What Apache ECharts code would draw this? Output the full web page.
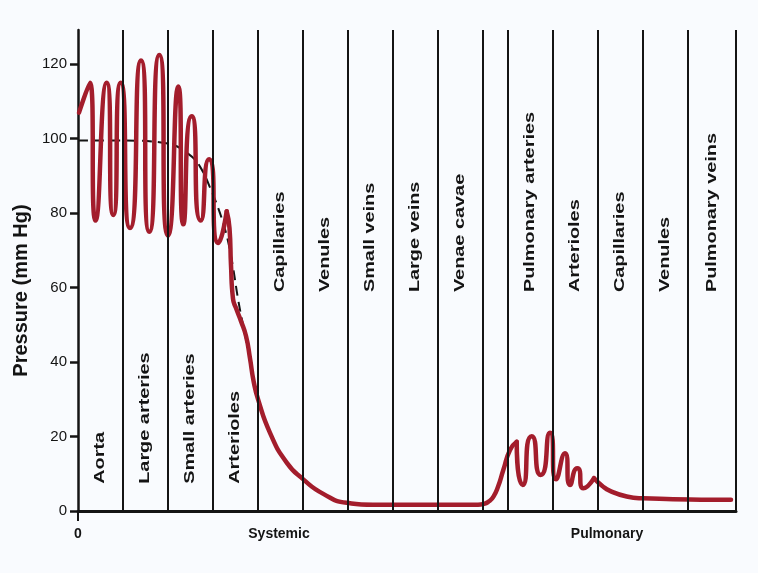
<!DOCTYPE html>
<html>
<head>
<meta charset="utf-8">
<script src="https://cdn.jsdelivr.net/npm/echarts@6/dist/echarts.min.js"></script>
<style>
  html, body { margin: 0; padding: 0; background: #f9fbfe; }
  #chart { width: 758px; height: 573px; }
</style>
</head>
<body>
<div id="chart"></div>
<script>
// ---- data ----
const yTicks = [0, 20, 40, 60, 80, 100, 120];
const dividerX = [45, 90, 135, 180, 225, 270, 315, 360, 405, 430, 475, 520, 565, 610, 658];

const vesselNames = ['Aorta', 'Large arteries', 'Small arteries', 'Arterioles', 'Capillaries', 'Venules',
  'Small veins', 'Large veins', 'Venae cavae', 'Pulmonary arteries', 'Arterioles', 'Capillaries',
  'Venules', 'Pulmonary veins'];
const vesselLabelX = [22.5, 67.5, 112.5, 157.5, 202.5, 247.5, 292.5, 337.5, 382.5, 452.5, 497.5, 542.5, 587.5, 634];
const vesselLabelBaseY = [7.3, 7.3, 7.3, 7.3, 58.8, 58.8, 58.8, 58.8, 58.8, 58.8, 58.8, 58.8, 58.8, 58.8];

const circuitNames = ['Systemic', 'Pulmonary'];
const circuitX = [201, 529];

// pressure trace (red): peaks and troughs, then the decay
const pressureX = [1, 12, 17.5, 28.7, 35.3, 42.7, 52, 63, 71.3, 81.3, 90, 100.3, 105.3, 113.7, 122.7, 131, 140.3, 148.7,
  151.5, 153, 155, 158, 163, 168, 172, 175.5, 180.3, 192, 208.7, 225.3, 245.3, 268.7, 295, 380, 400,
  406, 411, 415.3, 420, 425.3, 432, 438.7, 444.7, 453.7, 462.7, 472, 478, 487, 492, 499.3, 505.3, 516,
  524, 532, 548.7, 565, 612, 653];
const pressureY = [107, 115, 78, 115, 79.5, 115, 76, 121, 75, 122.5, 74, 114, 77, 106, 78, 94.5, 72, 80.5,
  76, 66, 57, 54.5, 51, 47, 41, 35, 29.8, 21, 13, 8.5, 4.6, 2.2, 1.7, 1.7, 1.7,
  1.9, 2.6, 3.8, 6.5, 11, 16.4, 18.6, 7, 20.1, 9.7, 21, 8.5, 15.5, 7, 11.5, 6.1, 8.8,
  6.8, 5.4, 3.9, 3.4, 3.1, 3.0];

// mean pressure (dashed)
const meanX = [0, 45, 90, 110, 122, 135, 140, 145, 150, 155, 160, 165, 170, 175, 178];
const meanY = [99.5, 99.5, 98.7, 96, 92.5, 85, 81.5, 77.5, 72.5, 65.5, 57, 50, 43.5, 36, 32];

// ---- chart ----
const chart = echarts.init(document.getElementById('chart'), null, { renderer: 'canvas' });
const ink = '#141414';
const red = '#a31d2c';
const sans = "'Liberation Sans', Arial, Helvetica, sans-serif";

// the trace is drawn in pieces: pulsatile parts are smoothed more than the decays
const pieces = [
  { from: 0, to: 148.7, smooth: 0.9 },
  { from: 148.7, to: 438.7, smooth: 0.55 },
  { from: 438.7, to: 516, smooth: 0.9 },
  { from: 516, to: 1000, smooth: 0.55 }
];
const traceSeries = pieces.map(function (pc) {
  const pts = [];
  pressureX.forEach(function (x, i) {
    if (x >= pc.from && x <= pc.to) pts.push([x, pressureY[i]]);
  });
  return {
    type: 'line', name: 'Pressure', showSymbol: false, smooth: pc.smooth,
    data: pts, lineStyle: { color: red, width: 4.5, cap: 'round', join: 'round' }, z: 4
  };
});

const option = {
  backgroundColor: '#f9fbfe',
  animation: false,
  grid: { left: 78, right: 22, top: 30, bottom: 62, containLabel: false },
  xAxis: {
    type: 'value', min: 0, max: 658,
    axisLine: { show: true, onZero: false, lineStyle: { color: ink, width: 3 } },
    axisTick: { show: true, customValues: [0], length: 10, lineStyle: { color: ink, width: 2 } },
    axisLabel: {
      show: true, customValues: [0].concat(circuitX), margin: 16,
      color: ink, fontFamily: sans, fontSize: 14, fontWeight: 'bold',
      formatter: function (v) {
        const i = circuitX.indexOf(v);
        return i >= 0 ? circuitNames[i] : String(v);
      }
    },
    splitLine: { show: false }
  },
  yAxis: {
    type: 'value', min: 0, max: 129.2,
    name: 'Pressure (mm Hg)', nameLocation: 'middle', nameGap: 45, nameRotate: 90,
    nameTextStyle: { color: ink, fontFamily: sans, fontSize: 20, fontWeight: 'bold', padding: [0, 40, 0, 0] },
    axisLine: { show: true, lineStyle: { color: ink, width: 2.5 } },
    axisTick: { show: true, customValues: yTicks, length: 8, lineStyle: { color: ink, width: 2.5 } },
    axisLabel: { customValues: yTicks, margin: 11, color: ink, fontFamily: sans, fontSize: 15 },
    splitLine: { show: false }
  },
  series: [
    {
      type: 'line', name: 'dividers', data: [], silent: true,
      markLine: {
        silent: true, symbol: ['none', 'none'], label: { show: false },
        lineStyle: { color: ink, width: 2, type: 'solid' },
        data: dividerX.map(function (x) { return { xAxis: x }; })
      }
    },
    {
      type: 'line', name: 'Mean pressure', showSymbol: false, smooth: 0.4,
      data: meanX.map(function (x, i) { return [x, meanY[i]]; }),
      lineStyle: { color: ink, width: 2, type: [10, 6] }, z: 3
    }
  ].concat(traceSeries).concat([
    {
      type: 'custom', name: 'Vessel labels', silent: true, z: 5,
      data: vesselLabelX.map(function (x, i) { return [x, vesselLabelBaseY[i]]; }),
      renderItem: function (params, api) {
        const p = api.coord([api.value(0), api.value(1)]);
        return {
          type: 'text', x: p[0], y: p[1], rotation: Math.PI / 2, scaleX: 1.42, scaleY: 1,
          style: {
            text: vesselNames[params.dataIndex], fill: ink,
            font: "bold 14px 'Liberation Sans', Arial, sans-serif",
            align: 'left', verticalAlign: 'middle'
          }
        };
      }
    }
  ])
};
chart.setOption(option);
</script>
</body>
</html>
